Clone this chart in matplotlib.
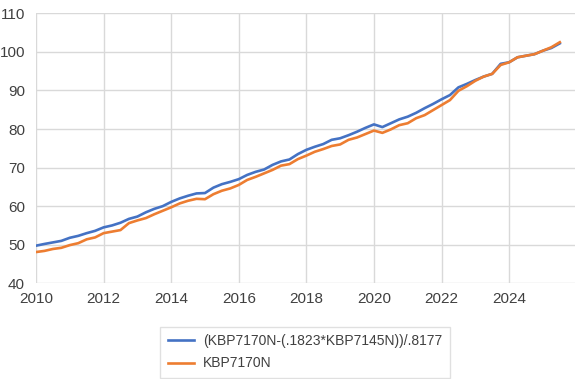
import numpy as np
import matplotlib
matplotlib.use("Agg")
import matplotlib.pyplot as plt

# quarterly observations, 2010Q1 .. 2025Q3
dates = np.arange(2010.0, 2025.51, 0.25)

adjusted = [49.75, 50.2, 50.6, 51.0,
            51.8, 52.3, 53.0, 53.6,
            54.5, 55.0, 55.7, 56.7,
            57.3, 58.4, 59.3, 60.0,
            61.1, 62.0, 62.7, 63.3,
            63.4, 64.8, 65.7, 66.3,
            67.0, 68.1, 68.9, 69.5,
            70.7, 71.6, 72.1, 73.5,
            74.6, 75.4, 76.1, 77.2,
            77.6, 78.4, 79.3, 80.3,
            81.2, 80.5, 81.5, 82.5,
            83.2, 84.2, 85.4, 86.5,
            87.7, 88.8, 90.8, 91.7,
            92.7, 93.6, 94.3, 96.9,
            97.3, 98.6, 99.0, 99.4,
            100.3, 101.0, 102.2]

kbp7170n = [48.1, 48.4, 48.9, 49.2,
            49.9, 50.4, 51.4, 51.9,
            53.0, 53.4, 53.8, 55.6,
            56.3, 56.9, 57.9, 58.8,
            59.7, 60.7, 61.4, 61.9,
            61.8, 63.1, 64.0, 64.6,
            65.5, 66.8, 67.6, 68.5,
            69.4, 70.5, 70.9, 72.2,
            73.1, 74.1, 74.8, 75.6,
            76.0, 77.2, 77.8, 78.7,
            79.6, 79.0, 79.9, 81.0,
            81.5, 82.8, 83.6, 84.9,
            86.2, 87.5, 89.9, 91.1,
            92.5, 93.6, 94.3, 96.6,
            97.3, 98.6, 99.0, 99.4,
            100.3, 101.2, 102.5]

labels = ["(KBP7170N-(.1823*KBP7145N))/.8177", "KBP7170N"]
x_ticks = [2010, 2012, 2014, 2016, 2018, 2020, 2022, 2024]
y_ticks = [40, 50, 60, 70, 80, 90, 100, 110]

plt.rcParams['font.family'] = ['Liberation Sans', 'DejaVu Sans']

fig = plt.figure(figsize=(5.79, 3.79), dpi=100)
ax = fig.add_axes([36/579, 1-283.3/379, (575-36)/579, (283.3-13.3)/379])

ax.plot(dates, adjusted, color='#4472C4', lw=1.9, label=labels[0],
        solid_joinstyle='round')
ax.plot(dates, kbp7170n, color='#ED7D31', lw=1.9, label=labels[1],
        solid_joinstyle='round')

ax.set_xlim(2010, 2025.95)
ax.set_ylim(40, 110)
ax.set_xticks(x_ticks)
ax.set_yticks(y_ticks)
ax.grid(True, color='#D9D9D9', lw=1)
ax.set_axisbelow(True)
for s in ax.spines.values():
    s.set_visible(False)
ax.tick_params(length=0, labelsize=11, pad=6)
ax.tick_params(axis='y', pad=8)
for lbl in ax.get_xticklabels() + ax.get_yticklabels():
    lbl.set_color('#404040')

leg = fig.legend(loc='upper left', bbox_to_anchor=(160/579, 1-326.5/379),
                 borderaxespad=0, frameon=True, fontsize=10, handlelength=1.9,
                 borderpad=0.55, labelspacing=0.6, handletextpad=0.65,
                 fancybox=False, edgecolor='#D9D9D9')
leg.get_frame().set_linewidth(1)
for t in leg.get_texts():
    t.set_color('#404040')

fig.savefig('out.png', dpi=100)
